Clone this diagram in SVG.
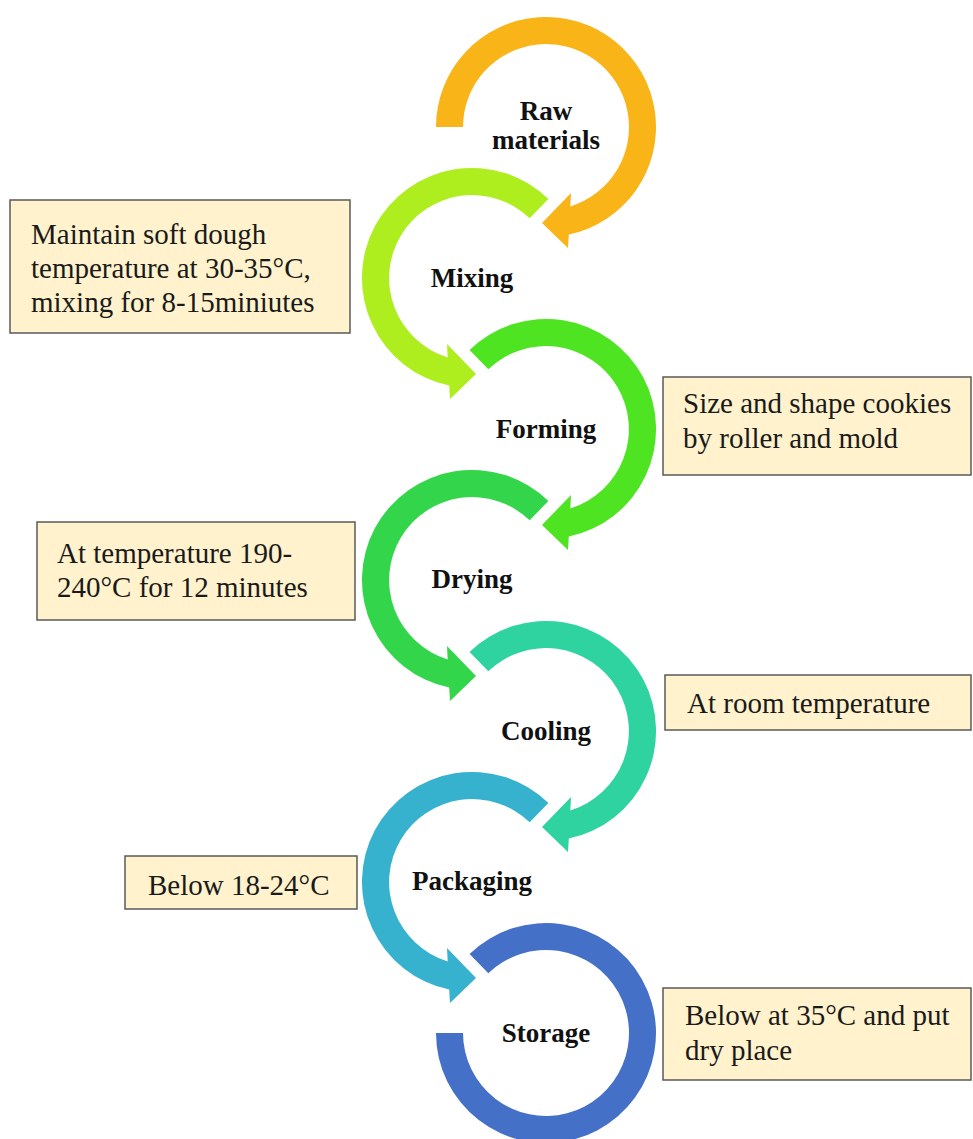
<svg xmlns="http://www.w3.org/2000/svg" xmlns:xlink="http://www.w3.org/1999/xlink" width="973" height="1139" viewBox="0 0 973 1139">
<style>
.step{font-family:"Liberation Serif","Times New Roman",serif;font-weight:bold;font-size:27px;fill:#111;text-anchor:middle}
.note{font-family:"Liberation Serif","Times New Roman",serif;font-size:29px;fill:#1a1a1a}
.box{fill:#FFF2CC;stroke:#595959;stroke-width:1.5}
</style>
<defs>
<path id="arrowRaw" d="M -110 0 A 110 110 0 1 1 22.8 107.6 L 22 121 L -4 96 L 25 66 L 24.3 79.4 A 83 83 0 1 0 -83 0 Z"/>
<path id="arrowR" d="M -76.4 -79.1 A 110 110 0 1 1 22.8 107.6 L 22 121 L -4 96 L 25 66 L 24.3 79.4 A 83 83 0 1 0 -57.7 -59.7 Z"/>
<path id="ring" d="M -76.4 -79.1 A 110 110 0 1 1 -110 0 L -83 0 A 83 83 0 1 0 -57.7 -59.7 Z"/>
</defs>
<rect width="973" height="1139" fill="#ffffff"/>
<g id="connectors"></g>
<g id="raw-materials">
<use xlink:href="#arrowRaw" href="#arrowRaw" transform="translate(546,127)" fill="#F9B418"/>
<text class="step" x="546" y="120">Raw</text>
<text class="step" x="546" y="149">materials</text>
</g>
<g id="mixing">
<use xlink:href="#arrowR" href="#arrowR" transform="translate(472,278) scale(-1,1)" fill="#AEEE1E"/>
<text class="step" x="472" y="287">Mixing</text>
</g>
<g id="forming">
<use xlink:href="#arrowR" href="#arrowR" transform="translate(546,429)" fill="#4EE422"/>
<text class="step" x="546" y="438">Forming</text>
</g>
<g id="drying">
<use xlink:href="#arrowR" href="#arrowR" transform="translate(472,580) scale(-1,1)" fill="#33D64A"/>
<text class="step" x="472" y="588">Drying</text>
</g>
<g id="cooling">
<use xlink:href="#arrowR" href="#arrowR" transform="translate(546,731)" fill="#2ED3A0"/>
<text class="step" x="546" y="740">Cooling</text>
</g>
<g id="packaging">
<use xlink:href="#arrowR" href="#arrowR" transform="translate(472,882) scale(-1,1)" fill="#36B2CE"/>
<text class="step" x="472" y="890">Packaging</text>
</g>
<g id="storage">
<use xlink:href="#ring" href="#ring" transform="translate(546,1033)" fill="#4470C8"/>
<text class="step" x="546" y="1042">Storage</text>
</g>
<g id="note-mixing">
<rect class="box" x="10" y="200" width="340" height="133"/>
<text class="note" x="31" y="244">Maintain soft dough</text>
<text class="note" x="31" y="278">temperature at 30-35°C,</text>
<text class="note" x="31" y="312">mixing for 8-15miniutes</text>
</g>
<g id="note-forming">
<rect class="box" x="663" y="377" width="308" height="98"/>
<text class="note" x="683" y="413">Size and shape cookies</text>
<text class="note" x="683" y="448">by roller and mold</text>
</g>
<g id="note-drying">
<rect class="box" x="37" y="522" width="318" height="98"/>
<text class="note" x="57" y="563">At temperature 190-</text>
<text class="note" x="57" y="597">240°C for 12 minutes</text>
</g>
<g id="note-cooling">
<rect class="box" x="665" y="675" width="306" height="55"/>
<text class="note" x="687" y="713">At room temperature</text>
</g>
<g id="note-packaging">
<rect class="box" x="125" y="856" width="232" height="53"/>
<text class="note" x="148" y="895">Below 18-24°C</text>
</g>
<g id="note-storage">
<rect class="box" x="663" y="988" width="308" height="92"/>
<text class="note" x="685" y="1025">Below at 35°C and put</text>
<text class="note" x="685" y="1060">dry place</text>
</g>
</svg>
